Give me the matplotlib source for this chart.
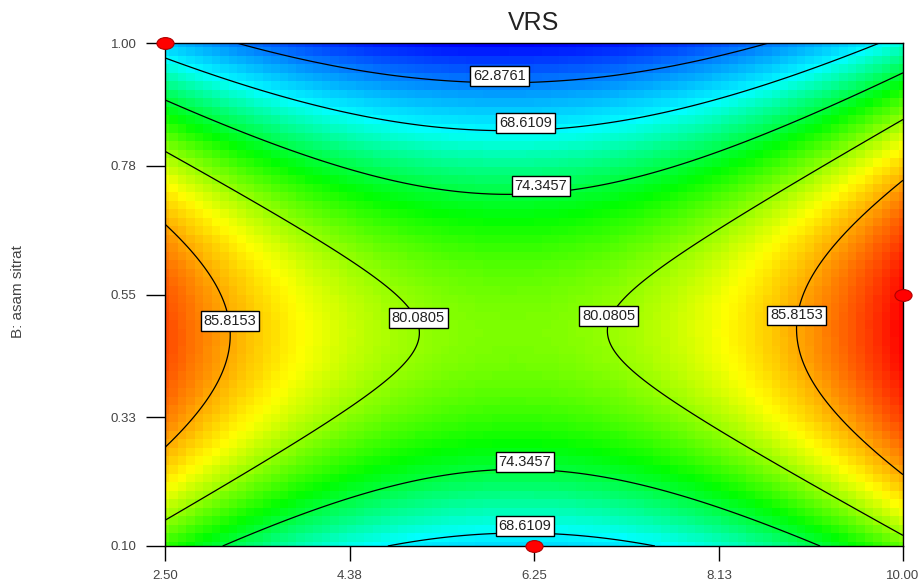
import numpy as np
import matplotlib
matplotlib.use("Agg")
from matplotlib import pyplot as plt
from matplotlib.colors import LinearSegmentedColormap
from matplotlib.markers import MarkerStyle
from matplotlib.transforms import Affine2D

plt.rcParams['font.family'] = ['Liberation Sans', 'DejaVu Sans']

# factor ranges
x_min, x_max = 2.5, 10.0
y_min, y_max = 0.10, 1.00
x_ticks = [2.50, 4.38, 6.25, 8.13, 10.00]
y_ticks = [0.10, 0.33, 0.55, 0.78, 1.00]

# fitted surface: centre and coefficients
X0, Y0, Z0 = 6.04, 0.485, 79.37
A2, B2, AB, B1 = 0.778, -83.0, 0.33, -0.3

# contour levels shown on the plot, colour range
levels = [62.8761, 68.6109, 74.3457, 80.0805, 85.8153]
z_low, z_high = 57.1413, 91.5501

# design points
pt_x = [2.5, 6.25, 10.0]
pt_y = [1.0, 0.10, 0.55]


def vrs(x, y):
    dx = x - X0
    dy = y - Y0
    return Z0 + A2 * dx**2 + B2 * dy**2 + AB * dx * dy + B1 * dy


# blue - cyan - green - yellow - red, green band a bit low like Design-Expert
cmap = LinearSegmentedColormap.from_list(
    "de", [(0.0, "#0000ff"), (0.34, "#00ffff"), (0.55, "#00ff00"),
           (0.75, "#ffff00"), (1.0, "#ff0000")])

fig = plt.figure(figsize=(9.21, 5.86), dpi=100)
ax = fig.add_axes([165/921, 40/586, 738/921, 503/586])

# coloured surface, coarse cells like the original
gx = np.linspace(x_min, x_max, 88)
gy = np.linspace(y_min, y_max, 60)
GX, GY = np.meshgrid(gx, gy)
ax.pcolormesh(GX, GY, vrs(GX, GY), cmap=cmap, vmin=z_low, vmax=z_high,
              shading='nearest', rasterized=True)

# contour lines
fx = np.linspace(x_min, x_max, 400)
fy = np.linspace(y_min, y_max, 300)
FX, FY = np.meshgrid(fx, fy)
cs = ax.contour(FX, FY, vrs(FX, FY), levels=levels, colors='black',
                linewidths=0.9)

label_pos = [(5.9, 0.93), (6.16, 0.85), (6.32, 0.735),
             (5.08, 0.495), (7.0, 0.5), (3.16, 0.49), (8.92, 0.5),
             (6.16, 0.245), (6.16, 0.125)]
txts = ax.clabel(cs, fmt='%.4f', fontsize=10.5, inline=False,
                 manual=label_pos, colors='black')
for t in txts:
    t.set_rotation(0)
    t.set_va('bottom')
    t.set_color('#222222')
    t.set_bbox(dict(boxstyle='square,pad=0.2', fc='white', ec='black', lw=1))

# design points
ell = MarkerStyle('o', transform=Affine2D().scale(1.45, 1.0))
ax.plot(pt_x, pt_y, linestyle='none', marker=ell, markersize=8.5,
        color='#ff0000', mec='#b00000', mew=0.8, clip_on=False, zorder=5)

ax.set_xlim(x_min, x_max)
ax.set_ylim(y_min, y_max)
ax.set_xticks(x_ticks)
ax.set_yticks(y_ticks)
ax.set_xticklabels([f'{v:.2f}' for v in x_ticks])
ax.set_yticklabels([f'{v:.2f}' for v in y_ticks])
ax.tick_params(axis='y', direction='out', length=13.5, width=1, pad=7,
               labelsize=9.5, labelcolor='#444444', color='black')
ax.tick_params(axis='x', direction='out', length=11, width=1, pad=6,
               labelsize=9.5, labelcolor='#444444', color='black')
for s in ax.spines.values():
    s.set_linewidth(1)
    s.set_color('black')

ax.set_title('VRS', fontsize=18, color='#222222', pad=9)
fig.text(18/921, 1 - 292/586, 'B: asam sitrat', rotation=90, fontsize=11,
         color='#444444', ha='center', va='center')

fig.savefig('out.png', dpi=100)
